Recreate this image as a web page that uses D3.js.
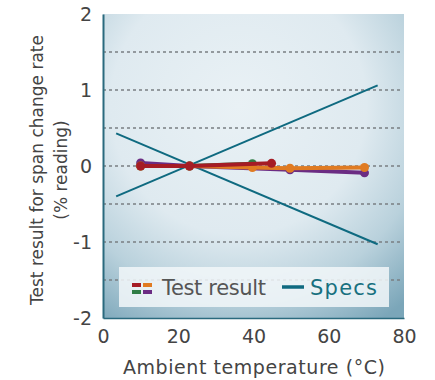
<!DOCTYPE html>
<html>
<head>
<meta charset="utf-8">
<script src="https://cdn.jsdelivr.net/npm/d3@7"></script>
<style>
  body { margin: 0; background: #fff; }
  text { font-family: "DejaVu Sans", sans-serif; }
</style>
</head>
<body>
<div id="chart"></div>
<script>
// test result series (temperature °C, % reading)
let purple = [[10, 0.04], [23, 0], [49.7, -0.05], [69.5, -0.09]];
let green = [[10, 0], [23, 0], [39.7, 0.03]];
let orange = [[10, 0], [23, 0], [39.7, -0.02], [49.7, -0.03], [69.5, -0.02]];
let red = [[10, 0], [23, 0], [44.8, 0.035]];
// spec limits
let specUpper = [[3.5, -0.4], [73, 1.06]];
let specLower = [[3.5, 0.43], [73, -1.03]];

let xTicks = [0, 20, 40, 60, 80];
let yTicks = [-2, -1, 0, 1, 2];
let gridVals = [-1.5, -1, -0.5, 0, 0.5, 1, 1.5];

let margin = { top: 14, right: 30, bottom: 62, left: 103 };
let W = 435, H = 380;
let width = W - margin.left - margin.right;
let height = H - margin.top - margin.bottom;

let svg = d3.select('#chart').append('svg')
  .attr('width', W).attr('height', H);

let defs = svg.append('defs');
let grad = defs.append('radialGradient').attr('id', 'bg')
  .attr('cx', '45%').attr('cy', '30%').attr('r', '85%');
grad.append('stop').attr('offset', '0%').attr('stop-color', '#e9f1f5');
grad.append('stop').attr('offset', '50%').attr('stop-color', '#dfeaf0');
grad.append('stop').attr('offset', '75%').attr('stop-color', '#b9d1dc');
grad.append('stop').attr('offset', '100%').attr('stop-color', '#7ba6b9');

let g = svg.append('g')
  .attr('transform', `translate(${margin.left}, ${margin.top})`);

let x = d3.scaleLinear().domain([0, 80]).range([0, 301]);
let y = d3.scaleLinear().domain([-2, 2]).range([height, 0]);

g.append('rect')
  .attr('x', 0).attr('y', 0)
  .attr('width', 301).attr('height', height)
  .attr('fill', 'url(#bg)');

// dotted gridlines
g.selectAll('.grid')
  .data(gridVals)
  .enter()
  .append('line')
  .attr('class', 'grid')
  .attr('x1', 0).attr('x2', 299)
  .attr('y1', d => y(d)).attr('y2', d => y(d))
  .attr('stroke', '#7a7f82')
  .attr('stroke-width', 1.3)
  .attr('stroke-dasharray', '3,3');

// axes (no tick marks, just labels)
let yAxis = d3.axisLeft(y).tickValues(yTicks).tickSize(0).tickPadding(11)
  .tickFormat(d => String(d));
let xAxis = d3.axisBottom(x).tickValues(xTicks).tickSize(0).tickPadding(12)
  .tickFormat(d => String(d));

let ya = g.append('g').call(yAxis);
let xa = g.append('g').attr('transform', `translate(0, ${height})`).call(xAxis);
[ya, xa].forEach(a => {
  a.select('.domain').attr('stroke', '#2a6a7e').attr('stroke-width', 2);
  a.selectAll('text').attr('font-size', 19).attr('fill', '#444')
    .style('font-family', '"DejaVu Sans", sans-serif');
});
xa.select('.domain').attr('stroke-width', 1.5);

// axis titles
svg.append('text')
  .attr('x', 254).attr('y', 374)
  .attr('text-anchor', 'middle')
  .attr('font-size', 19).attr('fill', '#444')
  .attr('textLength', 262)
  .text('Ambient temperature (°C)');

let yt = svg.append('text')
  .attr('transform', 'translate(37, 170) rotate(-90)')
  .attr('text-anchor', 'middle')
  .attr('font-size', 17).attr('fill', '#444');
yt.append('tspan').attr('x', 0).attr('y', 6).text('Test result for span change rate');
yt.append('tspan').attr('x', 0).attr('y', 30).text('(% reading)');

let line = d3.line().x(d => x(d[0])).y(d => y(d[1]));

// spec lines
[specUpper, specLower].forEach(s => {
  g.append('path')
    .attr('d', line(s))
    .attr('fill', 'none')
    .attr('stroke', '#0f6a80')
    .attr('stroke-width', 2);
});

// test results, red on top
let series = [
  { data: purple, color: '#6b2c83' },
  { data: green, color: '#2f7d45' },
  { data: orange, color: '#e07b22' },
  { data: red, color: '#a51c25' },
];

series.forEach(s => {
  g.append('path')
    .attr('d', line(s.data))
    .attr('fill', 'none')
    .attr('stroke', s.color)
    .attr('stroke-width', 4);
  g.selectAll(null)
    .data(s.data)
    .enter()
    .append('circle')
    .attr('cx', d => x(d[0]))
    .attr('cy', d => y(d[1]))
    .attr('r', 4.5)
    .attr('fill', s.color);
});

// legend
let lg = svg.append('g').attr('transform', 'translate(119, 267)');
lg.append('rect')
  .attr('width', 270).attr('height', 40)
  .attr('fill', '#f2f7f9').attr('fill-opacity', 0.85);

let swatch = [
  { c: '#a51c25', dx: 13, dy: 16 },
  { c: '#e07b22', dx: 24, dy: 16 },
  { c: '#2f7d45', dx: 13, dy: 23 },
  { c: '#6b2c83', dx: 24, dy: 23 },
];
lg.selectAll('.sw')
  .data(swatch)
  .enter()
  .append('rect')
  .attr('class', 'sw')
  .attr('x', d => d.dx).attr('y', d => d.dy)
  .attr('width', 9).attr('height', 4)
  .attr('fill', d => d.c);

lg.append('text')
  .attr('x', 43).attr('y', 28)
  .attr('font-size', 21).attr('fill', '#555')
  .attr('textLength', 104)
  .text('Test result');

lg.append('line')
  .attr('x1', 163).attr('x2', 185)
  .attr('y1', 20).attr('y2', 20)
  .attr('stroke', '#0f6a80').attr('stroke-width', 3.5);

lg.append('text')
  .attr('x', 191).attr('y', 28)
  .attr('font-size', 21).attr('fill', '#17707f')
  .attr('textLength', 67)
  .text('Specs');
</script>
</body>
</html>
